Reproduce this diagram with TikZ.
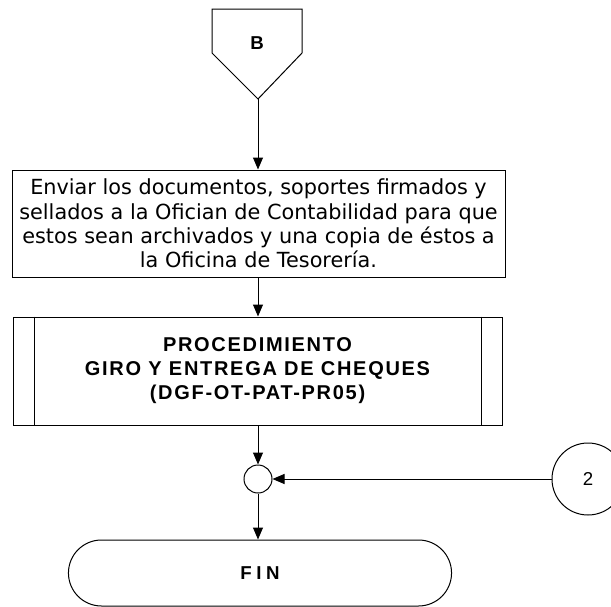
\documentclass[tikz,border=0pt]{standalone}
\usepackage{fontspec}
\setmainfont{Liberation Sans}
\newfontfamily\bodyfont{DejaVu Sans}
\usepackage{tikz}
\usetikzlibrary{calc,arrows.meta,shapes.misc}
\definecolor{linec}{HTML}{000000}
\tikzset{
  ar/.style={-{Triangle[length=9pt,width=7.5pt]},line width=0.75pt,linec},
  proc/.style={draw=linec,line width=0.75pt,align=center,inner sep=2pt},
  subproc/.style={proc,font=\bfseries\addfontfeatures{LetterSpace=8.5}\fontsize{15pt}{18pt}\selectfont},
  joint/.style={draw=linec,line width=0.75pt,circle,inner sep=0pt}
}

\begin{document}
\begin{tikzpicture}[x=0.75pt,y=-0.75pt]
\useasboundingbox (0,0) rectangle (611,607);
\clip (0,0) rectangle (611,607);
% conector de pagina
\draw[line width=0.75pt,linec] (212,9) -- (302,9) -- (302,53) -- (258,99) -- (212,53) -- cycle;
\node[font=\bfseries\fontsize{14pt}{16pt}\selectfont] (B) at (257,43) {B};
\coordinate (Btip) at (258,99);
\node[proc,minimum width=369.75pt,minimum height=80.25pt,
  font=\bodyfont\fontsize{15.6pt}{18.3pt}\selectfont] (envio) at (258.5,223.5)
  {Enviar los documentos, soportes firmados y\\sellados a la Ofician de Contabilidad para que\\estos sean archivados y una copia de éstos a\\la Oficina de Tesorería.};
\node[subproc,minimum width=366.75pt,minimum height=81pt] (giro) at (257.5,371)
  {PROCEDIMIENTO\\GIRO Y ENTREGA DE CHEQUES\\(DGF-OT-PAT-PR05)};
\draw[line width=0.75pt,linec] ($(giro.north west)+(22,0)$) -- ($(giro.south west)+(22,0)$);
\draw[line width=0.75pt,linec] ($(giro.north east)+(-21,0)$) -- ($(giro.south east)+(-21,0)$);
\node[joint,minimum size=21pt] (union) at (258,479) {};
\node[joint,minimum size=54pt,font=\fontsize{14pt}{16pt}\selectfont] (dos) at (588,479) {2};
\node[draw=linec,line width=0.75pt,rounded rectangle,minimum width=294pt,minimum height=49.5pt,
  font=\bfseries\addfontfeatures{LetterSpace=24}\fontsize{14pt}{16pt}\selectfont] (fin) at (260,573) {FIN};
% flechas
\draw[ar] (Btip) -- (envio.north -| Btip);
\draw[ar] (envio.south -| Btip) -- (giro.north -| Btip);
\draw[ar] (giro.south -| union) -- (union);
\draw[ar] (dos) -- (union);
\draw[ar] (union) -- (fin.north -| union);
\end{tikzpicture}
\end{document}
